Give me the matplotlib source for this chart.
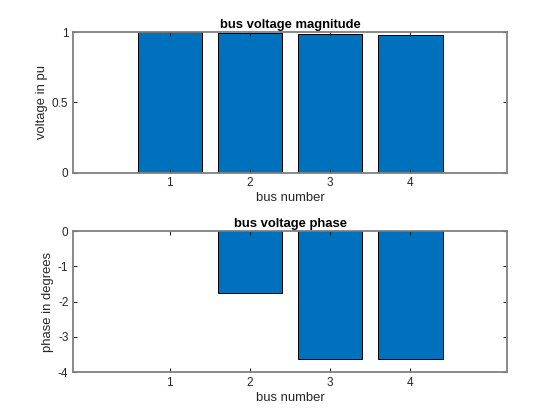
import numpy as np
import matplotlib
matplotlib.use("Agg")
import matplotlib.pyplot as plt

# bus results
bus = [1, 2, 3, 4]
v_mag = [1.0, 0.995, 0.985, 0.984]
v_phase = [0.0, -1.77, -3.64, -3.64]

plt.rcParams['font.family'] = ['Liberation Sans', 'DejaVu Sans']
plt.rcParams['axes.unicode_minus'] = False
bar_color = '#0072BD'
axis_gray = '#808080'

fig = plt.figure(figsize=(5.6, 4.2), dpi=100)
fig.patch.set_facecolor('white')

ax1 = fig.add_axes([0.131, 0.589, 0.774, 0.334])
ax2 = fig.add_axes([0.131, 0.114, 0.774, 0.336])


def style(ax):
    for s in ax.spines.values():
        s.set_color(axis_gray)
        s.set_linewidth(1.3)
        s.set_zorder(3)
    ax.tick_params(direction='in', length=3, width=0.8, color='#262626',
                   labelsize=8.5, labelcolor='#262626', top=True, right=True)
    ax.set_xlim(-0.2, 5.2)
    ax.set_xticks(bus)


def draw_bars(ax, vals):
    # no outline on zero-height bars, like MATLAB hides them under the axis
    edges = ['black' if v != 0 else 'none' for v in vals]
    ax.bar(bus, vals, width=0.8, color=bar_color, edgecolor=edges, linewidth=0.7)


draw_bars(ax1, v_mag)
style(ax1)
ax1.set_ylim(0, 1)
ax1.set_yticks([0, 0.5, 1])
ax1.set_yticklabels(['0', '0.5', '1'])
ax1.set_title('bus voltage magnitude', fontsize=9.4, fontweight='bold', pad=3)
ax1.set_xlabel('bus number', fontsize=9.4, color='#262626', labelpad=2)
ax1.set_ylabel('voltage in pu', fontsize=9.4, color='#262626', labelpad=3)

draw_bars(ax2, v_phase)
style(ax2)
ax2.set_ylim(-4, 0)
ax2.set_yticks([-4, -3, -2, -1, 0])
ax2.set_title('bus voltage phase', fontsize=9.4, fontweight='bold', pad=3)
ax2.set_xlabel('bus number', fontsize=9.4, color='#262626', labelpad=2)
ax2.set_ylabel('phase in degrees', fontsize=9.4, color='#262626', labelpad=3)

fig.savefig('out.png', dpi=100, facecolor='white')
